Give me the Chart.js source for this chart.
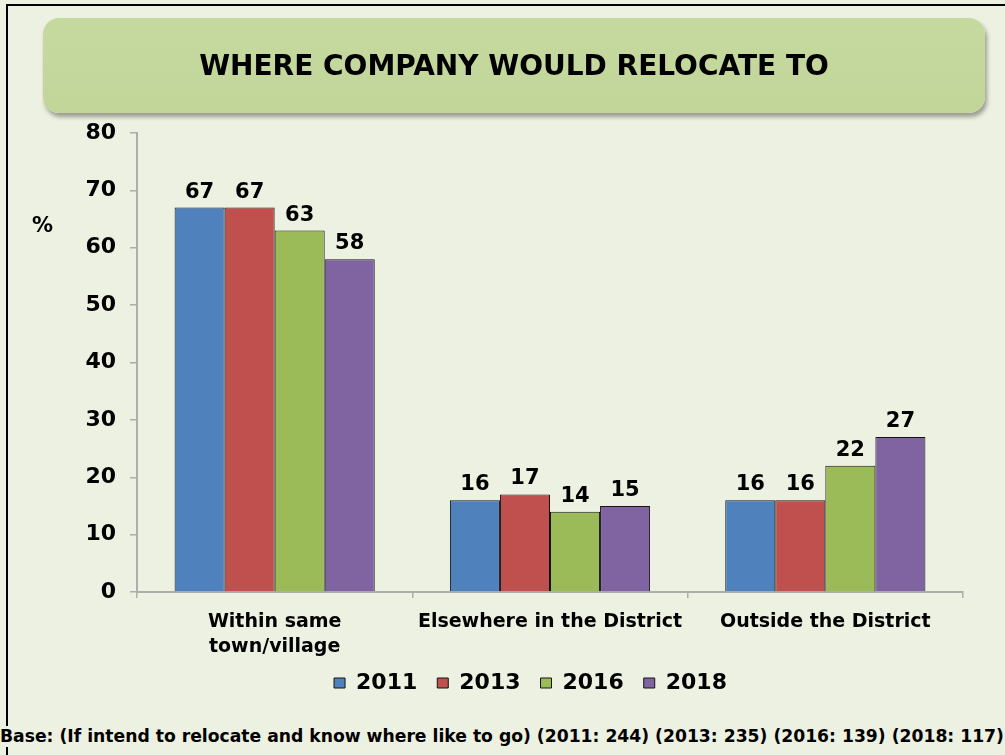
<!DOCTYPE html>
<html>
<head>
<meta charset="utf-8">
<script src="https://cdn.jsdelivr.net/npm/chart.js@4.4.1/dist/chart.umd.min.js"></script>
<style>
  html, body { margin: 0; padding: 0; }
  body { width: 1005px; height: 755px; background: #edf1e1; position: relative; overflow: hidden; font-family: "DejaVu Sans", Verdana, sans-serif; }
  #frame { position: absolute; left: 6px; top: 4px; width: 1010px; height: 770px; border: 2px solid #000; box-sizing: border-box; }
  #titleBox { position: absolute; left: 43px; top: 18px; width: 942px; height: 95px; border-radius: 16px;
    background: linear-gradient(#c6d99f, #c2d599); box-shadow: 2px 4px 4px rgba(0,0,0,0.35);
    display: flex; align-items: center; justify-content: center; font-weight: bold; font-size: 28px; color: #000; z-index: 2; }
  #chartVisite { position: absolute; left: 0; top: 0; z-index: 1; }
  #pct { position: absolute; left: 32px; top: 213px; font-weight: bold; font-size: 21px; z-index: 2; }
  #base { position: absolute; left: 0; top: 726px; font-weight: bold; font-size: 17.2px; line-height: 21px; background: #edf1e1; padding-right: 2px; white-space: nowrap; z-index: 2; }
</style>
</head>
<body>
<div id="frame"></div>
<canvas id="chartVisite" width="1005" height="755"></canvas>
<div id="titleBox">WHERE COMPANY WOULD RELOCATE TO</div>
<div id="pct">%</div>
<div id="base">Base: (If intend to relocate and know where like to go) (2011: 244) (2013: 235) (2016: 139) (2018: 117)</div>

<script>
// Data
const categories = [["Within same", "town/village"], "Elsewhere in the District", "Outside the District"];
const years = ["2011", "2013", "2016", "2018"];
const values2011 = [67, 16, 16];
const values2013 = [67, 17, 16];
const values2016 = [63, 14, 22];
const values2018 = [58, 15, 27];
const yTicks = [0, 10, 20, 30, 40, 50, 60, 70, 80];

const colors = ['#4f81bd', '#c0504d', '#9bbb59', '#8064a2'];
const allValues = [values2011, values2013, values2016, values2018];

const datasets = years.map(function(year, i){
	return {
		label: year,
		data: allValues[i],
		backgroundColor: colors[i],
		borderColor: '#141414',
		borderWidth: 1,
		categoryPercentage: 0.727,
		barPercentage: 1
	};
});

// value labels above each bar
const barValues = {
	id: 'barValues',
	afterDatasetsDraw(chart) {
		const ctx = chart.ctx;
		ctx.save();
		ctx.font = 'bold 21px "DejaVu Sans"';
		ctx.fillStyle = '#000';
		ctx.textAlign = 'center';
		ctx.textBaseline = 'alphabetic';
		chart.data.datasets.forEach(function(ds, i){
			chart.getDatasetMeta(i).data.forEach(function(bar, j){
				ctx.fillText(ds.data[j], bar.x, bar.y - 10);
			});
		});
		ctx.restore();
	}
};

// move the legend right (under the plot) and a bit up
const legendShift = {
	id: 'legendShift',
	afterLayout(chart) {
		chart.legend.left += 49;
		chart.legend.right += 49;
		chart.legend.top -= 8;
		chart.legend.bottom -= 8;
	}
};

const chartVisite = document.getElementById("chartVisite");

const visiteChart = new Chart(chartVisite, {
	type: "bar",
	data: {
		labels: categories,
		datasets: datasets
	},
	plugins: [barValues, legendShift],
	options: {
		responsive: false,
		animation: false,
		layout: {
			padding: { left: 0, right: 42, top: 133, bottom: 43 }
		},
		plugins: {
			tooltip: { enabled: false },
			legend: {
				position: 'bottom',
				labels: {
					boxWidth: 11,
					boxHeight: 10,
					padding: 20,
					color: '#000',
					font: { family: '"DejaVu Sans"', size: 22, weight: 'bold' }
				}
			}
		},
		scales: {
			y: {
				min: 0,
				max: 80,
				afterFit: function(scale){ scale.width = 137; },
				afterBuildTicks: function(scale){ scale.ticks = yTicks.map(function(v){ return { value: v }; }); },
				grid: {
					drawOnChartArea: false,
					tickLength: 7,
					color: '#adadad',
					lineWidth: 1.5
				},
				border: { color: '#adadad', width: 2 },
				ticks: {
					padding: 14,
					color: '#000',
					font: { family: '"DejaVu Sans"', size: 22, weight: 'bold' }
				}
			},
			x: {
				afterFit: function(scale){ scale.height = 68; },
				grid: {
					drawOnChartArea: false,
					tickLength: 6,
					color: '#adadad',
					lineWidth: 1.5
				},
				border: { color: '#adadad', width: 2 },
				ticks: {
					padding: 12,
					maxRotation: 0,
					color: '#000',
					font: { family: '"DejaVu Sans"', size: 19, weight: 'bold', lineHeight: 1.3 }
				}
			}
		}
	}
});
</script>
</body>
</html>
